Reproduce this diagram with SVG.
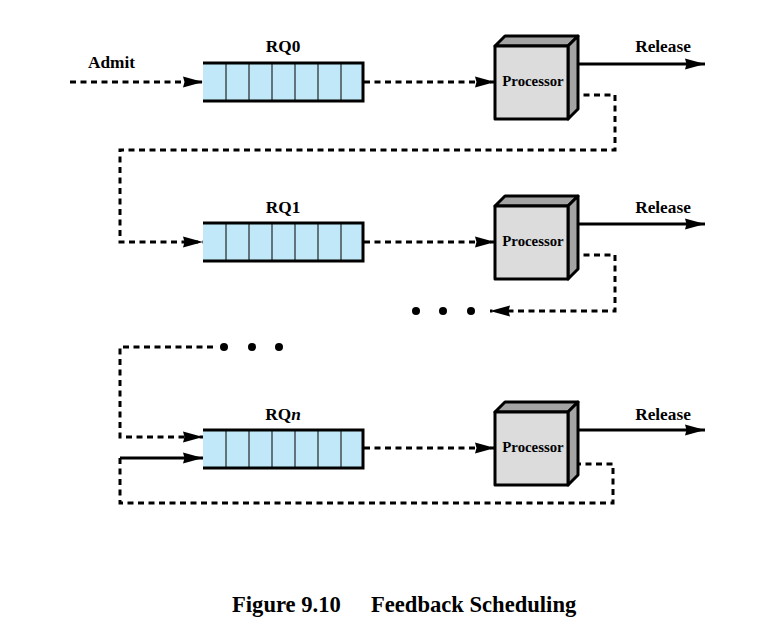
<svg xmlns="http://www.w3.org/2000/svg" width="779" height="632" viewBox="0 0 779 632">
<style>
text{font-family:"Liberation Serif","Times New Roman",serif;font-weight:bold;fill:#000}
.lbl{font-size:17.3px}
.proc{font-size:14.8px}
.cap{font-size:22.6px}
.qfill{fill:#c0e8f8;stroke:none}
.qbord{fill:none;stroke:#000;stroke-width:3}
.cell{stroke:#000;stroke-width:1}
.front{fill:#dcdcdc;stroke:#000;stroke-width:3;stroke-linejoin:round}
.side{fill:#a4a4a4;stroke:#000;stroke-width:3;stroke-linejoin:round}
.dash{fill:none;stroke:#000;stroke-width:3;stroke-dasharray:6,4.5}
.solid{fill:none;stroke:#000;stroke-width:3}
.arr{marker-end:url(#ah)}
</style>
<defs>
<marker id="ah" markerUnits="userSpaceOnUse" markerWidth="22" markerHeight="14" refX="20" refY="7" orient="auto">
<path d="M0,1.5 L20,7 L0,12.5 L1.5,7 Z" fill="#000"/>
</marker>
<g id="queue">
<rect class="qfill" x="203" y="-19" width="160" height="38"/>
<path class="cell" d="M226,-19V19M249,-19V19M272,-19V19M295,-19V19M318,-19V19M341,-19V19"/>
<path class="qbord" d="M203,-19H363V19H203"/>
</g>
<g id="cpu">
<polygon class="side" points="495,-36 505,-46 578,-46 568,-36"/>
<polygon class="side" points="568,-36 578,-46 578,27 568,37"/>
<rect class="front" x="495" y="-36" width="73" height="73"/>
</g>
</defs>

<g id="connectors">
<line class="dash arr" x1="70" y1="82" x2="203" y2="82"/>
<line class="dash arr" x1="364" y1="82" x2="495" y2="82"/>
<line class="solid arr" x1="573" y1="64" x2="705" y2="64"/>
<polyline class="dash arr" points="573,95 615,95 615,150 120,150 120,242 203,242"/>

<line class="dash arr" x1="364" y1="242" x2="495" y2="242"/>
<line class="solid arr" x1="573" y1="224" x2="705" y2="224"/>
<polyline class="dash arr" points="573,255 615,255 615,311 490,311"/>

<polyline class="dash arr" points="213,347 120,347 120,437 203,437"/>
<polyline class="solid arr" points="120,458 203,458"/>
<polyline class="dash" points="120,458 120,503 613,503 613,464 573,464"/>
<line class="dash arr" x1="364" y1="448" x2="495" y2="448"/>
<line class="solid arr" x1="573" y1="430" x2="705" y2="430"/>
</g>

<g id="dots">
<circle cx="416" cy="311" r="4"/>
<circle cx="443" cy="311" r="4"/>
<circle cx="471" cy="311" r="4"/>
<circle cx="224" cy="347" r="4"/>
<circle cx="252" cy="347" r="4"/>
<circle cx="279" cy="347" r="4"/>
</g>

<g id="rq0">
<use href="#queue" transform="translate(0,82)"/>
<text class="lbl" x="283" y="52" text-anchor="middle">RQ0</text>
</g>
<g id="rq1">
<use href="#queue" transform="translate(0,242)"/>
<text class="lbl" x="283" y="213" text-anchor="middle">RQ1</text>
</g>
<g id="rqn">
<use href="#queue" transform="translate(0,449)"/>
<text class="lbl" x="283" y="420" text-anchor="middle">RQ<tspan font-style="italic">n</tspan></text>
</g>

<g id="proc0">
<use href="#cpu" transform="translate(0,82)"/>
<text class="proc" x="533" y="86" text-anchor="middle">Processor</text>
</g>
<g id="proc1">
<use href="#cpu" transform="translate(0,242)"/>
<text class="proc" x="533" y="246" text-anchor="middle">Processor</text>
</g>
<g id="procn">
<use href="#cpu" transform="translate(0,448)"/>
<text class="proc" x="533" y="452" text-anchor="middle">Processor</text>
</g>

<g id="labels">
<text class="lbl" x="88" y="68">Admit</text>
<text class="lbl" x="663" y="52" text-anchor="middle">Release</text>
<text class="lbl" x="663" y="213" text-anchor="middle">Release</text>
<text class="lbl" x="663" y="420" text-anchor="middle">Release</text>
</g>

<g id="caption">
<text class="cap" x="232" y="612">Figure 9.10</text>
<text class="cap" x="371" y="612">Feedback Scheduling</text>
</g>
</svg>
